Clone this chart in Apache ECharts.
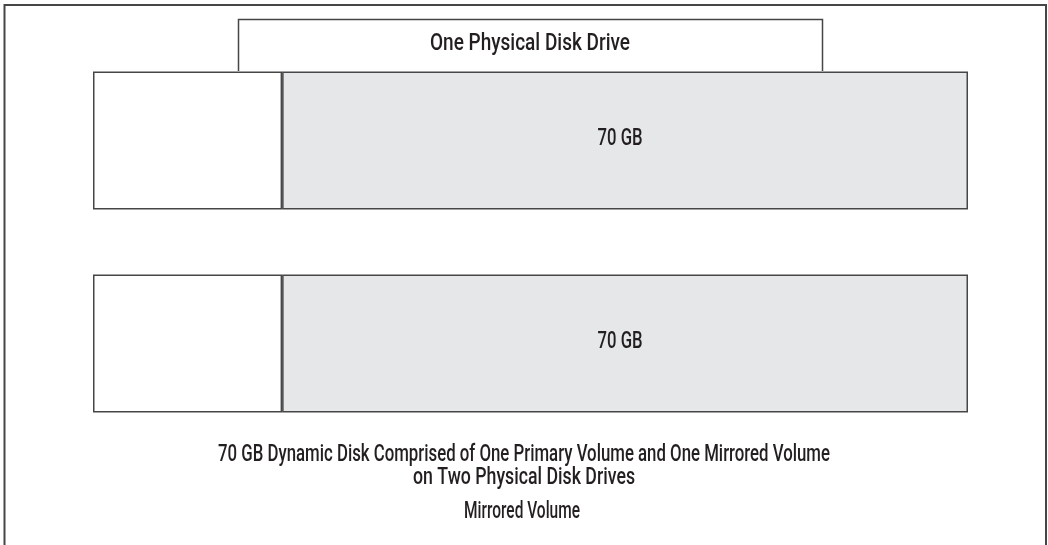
<!DOCTYPE html>
<html>
<head>
<meta charset="utf-8">
<script src="https://cdn.jsdelivr.net/npm/echarts@6/dist/echarts.min.js"></script>
<style>
html,body{margin:0;padding:0;background:#fff;}
#chart{width:1048px;height:545px;}
</style>
</head>
<body>
<div id="chart"></div>
<script>
// Data
const disks = ['Disk 1', 'Disk 2'];
const otherSpace = [19.3, 19.3];      // unlabelled white portion (estimated)
const volumeGB = [70, 70];            // mirrored 70 GB volume
const volumeLabels = ['70 GB', '70 GB'];
const tabLabel = 'One Physical Disk Drive';
const captionLines = ['70 GB Dynamic Disk Comprised of One Primary Volume and One Mirrored Volume', 'on Two Physical Disk Drives'];
const footerLabel = 'Mirrored Volume';

const FONT = 'Roboto, "Liberation Sans", Arial, sans-serif';
const FONT_CSS = '500 23px ' + FONT;
const LINE = '#464646';
const TEXT = '#231f20';

// measure text to condense it horizontally to the width seen in the reference
const mctx = document.createElement('canvas').getContext('2d');
mctx.font = FONT_CSS;
function txt(x, y, text, targetW) {
  const w = mctx.measureText(text).width;
  return {
    type: 'text', silent: true, x: x, y: y, scaleX: targetW / w,
    style: { text: text, fill: TEXT, font: FONT_CSS, textAlign: 'center', textVerticalAlign: 'middle' }
  };
}

const chart = echarts.init(document.getElementById('chart'));
const total = otherSpace[0] + volumeGB[0];

chart.setOption({
  backgroundColor: '#ffffff',
  animation: false,
  grid: { left: 93, right: 80, top: 39, bottom: 100 },
  xAxis: { type: 'value', min: 0, max: total, show: false },
  yAxis: { type: 'category', data: disks, inverse: true, show: false },
  series: [
    {
      type: 'bar', stack: 'disk', data: otherSpace, barCategoryGap: '32%',
      itemStyle: { color: '#ffffff', borderColor: LINE, borderWidth: 1.5 },
      silent: true
    },
    {
      type: 'bar', stack: 'disk', data: volumeGB,
      itemStyle: { color: '#e6e7e8', borderColor: LINE, borderWidth: 1.5 },
      silent: true
    },
    {
      type: 'custom', silent: true, z: 5,
      data: disks.map((d, i) => [otherSpace[i] + volumeGB[i] / 2, i]),
      renderItem: function (params, api) {
        const p = api.coord([api.value(0), api.value(1)]);
        return txt(p[0] - 5, p[1] - 1, volumeLabels[params.dataIndex], 45);
      }
    }
  ],
  graphic: [
    {
      type: 'polyline', silent: true,
      shape: { points: [[4.5, 545], [4.5, 5], [1046, 5], [1046, 545]] },
      style: { stroke: LINE, lineWidth: 2, fill: null }
    },
    {
      type: 'polyline', silent: true,
      shape: { points: [[238.5, 71], [238.5, 19.5], [822.5, 19.5], [822.5, 71]] },
      style: { stroke: LINE, lineWidth: 1.5, fill: null }
    },
    txt(530, 44, tabLabel, 200),
    txt(524, 455, captionLines[0], 612),
    txt(524, 478, captionLines[1], 222),
    txt(522, 512, footerLabel, 116)
  ]
});
</script>
</body>
</html>
